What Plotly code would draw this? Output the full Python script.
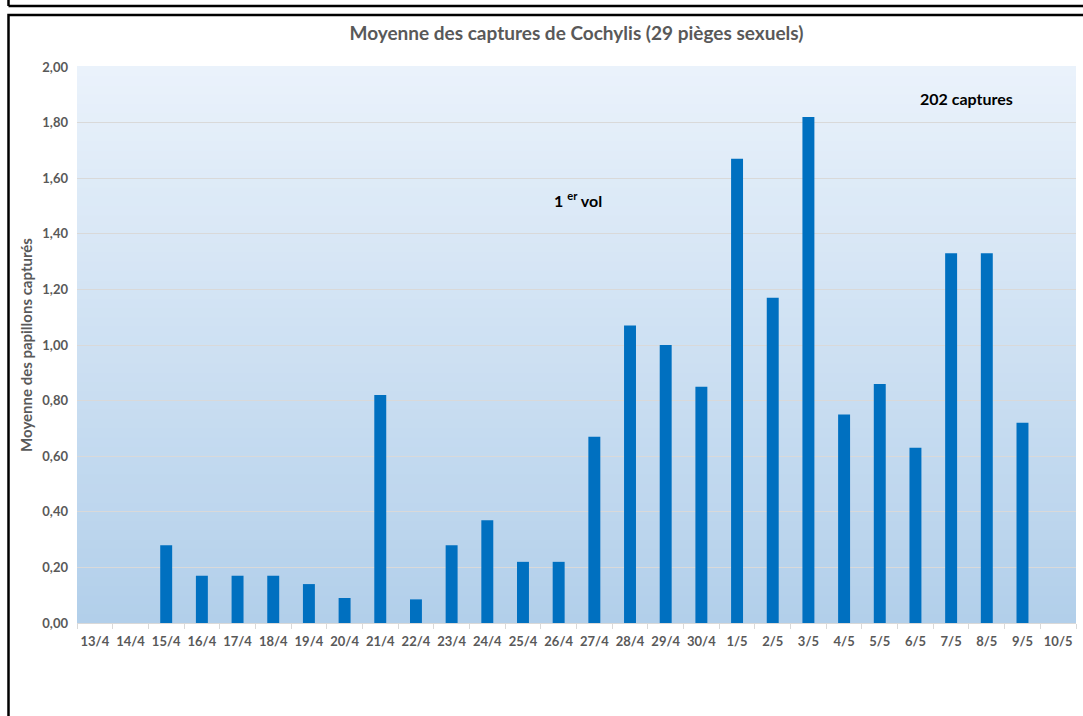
import plotly.graph_objects as go

# ---- data ----
dates = ["13/4", "14/4", "15/4", "16/4", "17/4", "18/4", "19/4", "20/4", "21/4", "22/4",
         "23/4", "24/4", "25/4", "26/4", "27/4", "28/4", "29/4", "30/4", "1/5", "2/5",
         "3/5", "4/5", "5/5", "6/5", "7/5", "8/5", "9/5", "10/5"]
moyennes = [0, 0, 0.28, 0.17, 0.17, 0.17, 0.14, 0.09, 0.82, 0.085,
            0.28, 0.37, 0.22, 0.22, 0.67, 1.07, 1.00, 0.85, 1.67, 1.17,
            1.82, 0.75, 0.86, 0.63, 1.33, 1.33, 0.72, 0]
y_ticks = [0, 0.2, 0.4, 0.6, 0.8, 1.0, 1.2, 1.4, 1.6, 1.8, 2.0]

title_text = "Moyenne des captures de Cochylis (29 pièges sexuels)"
y_title = "Moyenne des papillons capturés"

FONT = "Lato"
GRAY = "#595959"
BAR = "#0070C0"

fig = go.Figure()
fig.add_trace(go.Bar(x=dates, y=moyennes, marker=dict(color=BAR, line=dict(width=0)),
                     hoverinfo="x+y"))

# ---- plot-area vertical gradient (background styling) ----
shapes = []
n = 60
top = (0xEA, 0xF2, 0xFB)
bot = (0xB2, 0xCF, 0xEA)
for i in range(n):
    t = (i + 0.5) / n
    c = tuple(round(bot[k] + (top[k] - bot[k]) * t) for k in range(3))
    shapes.append(dict(type="rect", xref="x domain", yref="y domain",
                       x0=0, x1=1, y0=i / n, y1=(i + 1) / n + 0.002,
                       fillcolor="rgb(%d,%d,%d)" % c, line=dict(width=0), layer="below"))

# ---- frame borders ----
def px(x):
    return (x - 77) / 999
def py(y):
    return (623 - y) / 556

shapes.append(dict(type="rect", xref="paper", yref="paper",
                   x0=px(8.5), x1=px(1090), y0=py(730), y1=py(15),
                   line=dict(color="black", width=2.5), fillcolor="rgba(0,0,0,0)", layer="above"))
shapes.append(dict(type="line", xref="paper", yref="paper",
                   x0=px(8.5), x1=px(1090), y0=py(6), y1=py(6),
                   line=dict(color="black", width=2.5), layer="above"))
shapes.append(dict(type="line", xref="paper", yref="paper",
                   x0=px(8.5), x1=px(8.5), y0=py(6), y1=py(-5),
                   line=dict(color="black", width=2.5), layer="above"))

fig.update_layout(
    width=1083, height=716,
    margin=dict(l=77, r=7, t=67, b=93, autoexpand=False),
    paper_bgcolor="white",
    plot_bgcolor="rgba(0,0,0,0)",
    separators=", ",
    bargap=0.665,
    showlegend=False,
    font=dict(family=FONT, color=GRAY),
    title=dict(text="<b>" + title_text + "</b>", x=0.5, xanchor="center",
               xref="paper", y=1 - 33 / 716, yanchor="middle",
               font=dict(family=FONT, size=19, color=GRAY)),
    shapes=shapes,
    annotations=[
        dict(text="<b>1 <sup>er</sup> vol</b>", x=px(578), y=py(200),
             xref="paper", yref="paper", xanchor="center", yanchor="middle",
             showarrow=False, font=dict(family=FONT, size=16, color="black")),
        dict(text="<b>202 captures</b>", x=px(966), y=py(99),
             xref="paper", yref="paper", xanchor="center", yanchor="middle",
             showarrow=False, font=dict(family=FONT, size=16, color="black")),
    ],
)

fig.update_xaxes(
    type="category", categoryorder="array", categoryarray=dates,
    showgrid=False, showline=True, linecolor="#d9d9d9", linewidth=1,
    ticks="outside", tickson="boundaries", ticklen=5, tickcolor="#d9d9d9",
    tickangle=0, ticklabelstandoff=6,
    tickfont=dict(family=FONT, size=13, color=GRAY, weight="bold"),
    fixedrange=True,
)
fig.update_yaxes(
    range=[0, 2.0], tickvals=y_ticks, tickformat=".2f",
    showgrid=True, gridcolor="#d9d9d9", gridwidth=1,
    zeroline=False, showline=False, ticks="", ticklabelstandoff=8,
    tickfont=dict(family=FONT, size=13, color=GRAY, weight="bold"),
    title=dict(text="<b>" + y_title + "</b>", standoff=6,
               font=dict(family=FONT, size=15, color=GRAY)),
    fixedrange=True,
)

fig.write_html("out.html", config={"displayModeBar": False},
               post_script="document.body.style.margin='0';document.body.style.overflow='hidden';")
